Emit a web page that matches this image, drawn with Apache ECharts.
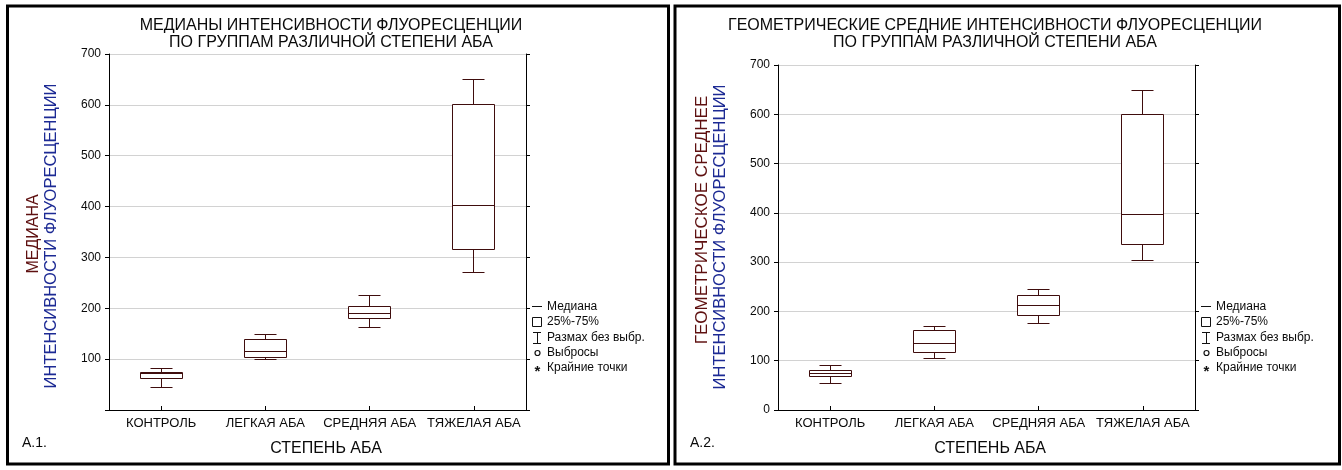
<!DOCTYPE html>
<html>
<head>
<meta charset="utf-8">
<script src="https://cdn.jsdelivr.net/npm/echarts@6/dist/echarts.min.js"></script>
<style>
html,body{margin:0;padding:0;background:#fff;}
#c{width:1342px;height:470px;}
</style>
</head>
<body>
<div id="c"></div>
<script>
// ---- data ----
const categories = ['КОНТРОЛЬ', 'ЛЕГКАЯ АБА', 'СРЕДНЯЯ АБА', 'ТЯЖЕЛАЯ АБА'];
// [min, Q1, median, Q3, max]
const medianStats = [
  [45, 61, 71, 73, 82],
  [99, 104, 116, 139, 149],
  [163, 180, 189, 204, 225],
  [270, 315, 403, 600, 650]
];
const geoStats = [
  [53, 67, 74, 80, 91],
  [105, 116, 134, 162, 170],
  [176, 192, 213, 233, 245],
  [304, 335, 397, 600, 648]
];
const yTicks = [0, 100, 200, 300, 400, 500, 600, 700];
const titleLeft = 'МЕДИАНЫ ИНТЕНСИВНОСТИ ФЛУОРЕСЦЕНЦИИ\nПО ГРУППАМ РАЗЛИЧНОЙ СТЕПЕНИ АБА';
const titleRight = 'ГЕОМЕТРИЧЕСКИЕ СРЕДНИЕ ИНТЕНСИВНОСТИ ФЛУОРЕСЦЕНЦИИ\nПО ГРУППАМ РАЗЛИЧНОЙ СТЕПЕНИ АБА';
const yNameLeft = ['МЕДИАНА', 'ИНТЕНСИВНОСТИ ФЛУОРЕСЦЕНЦИИ'];
const yNameRight = ['ГЕОМЕТРИЧЕСКОЕ СРЕДНЕЕ', 'ИНТЕНСИВНОСТИ ФЛУОРЕСЦЕНЦИИ'];
const xName = 'СТЕПЕНЬ АБА';
const legendItems = ['Медиана', '25%-75%', 'Размах без выбр.', 'Выбросы', 'Крайние точки'];
const panelLabels = ['А.1.', 'А.2.'];

// ---- styling ----
const FONT = "'Liberation Sans', Arial, sans-serif";
const BOX = '#3f0d0d';
const GRID_C = '#d2d2d2';
const TXT = '#0a0a0a';

const chart = echarts.init(document.getElementById('c'), null, {renderer: 'canvas'});

function h(v) { return Math.round(v - 0.5) + 0.5; }

function renderBox(params, api) {
  const x = api.value(0);
  const pMin = api.coord([x, api.value(1)]);
  const pQ1 = api.coord([x, api.value(2)]);
  const pMed = api.coord([x, api.value(3)]);
  const pQ3 = api.coord([x, api.value(4)]);
  const pMax = api.coord([x, api.value(5)]);
  const band = api.size([1, 0])[0];
  const bw = band * 0.405, cw = band * 0.22;
  const cx = h(pMin[0]);
  const ls = {stroke: BOX, lineWidth: 1};
  const L = (x1, y1, x2, y2) => ({type: 'line', shape: {x1: x1, y1: y1, x2: x2, y2: y2}, style: ls});
  const left = h(cx - bw / 2), right = h(cx + bw / 2);
  return {
    type: 'group',
    children: [
      L(cx, h(pMax[1]), cx, h(pQ3[1])),
      L(cx, h(pQ1[1]), cx, h(pMin[1])),
      L(h(cx - cw / 2), h(pMax[1]), h(cx + cw / 2), h(pMax[1])),
      L(h(cx - cw / 2), h(pMin[1]), h(cx + cw / 2), h(pMin[1])),
      {type: 'rect', shape: {x: left, y: h(pQ3[1]), width: right - left, height: h(pQ1[1]) - h(pQ3[1])},
        style: {fill: '#fff', stroke: BOX, lineWidth: 1}},
      L(left, h(pMed[1]), right, h(pMed[1]))
    ]
  };
}

function toData(stats) { return stats.map((s, i) => [i].concat(s)); }

const grids = [
  {left: 109, right: 816, top: 54, bottom: 60},
  {left: 778, right: 147, top: 65, bottom: 60}
];

function xAxes(gi) {
  return [
    {type: 'category', gridIndex: gi, data: categories, position: 'bottom',
      axisLine: {lineStyle: {color: '#000', width: 1}},
      axisTick: {show: true, inside: true, length: 4, alignWithLabel: true, interval: 0, lineStyle: {color: '#000'}},
      axisLabel: {fontFamily: FONT, fontSize: 13, color: TXT, margin: 7, interval: 0},
      splitLine: {show: false}},
    {type: 'category', gridIndex: gi, data: categories, position: 'top',
      axisLine: {lineStyle: {color: '#000', width: 1}},
      axisTick: {show: true, inside: false, length: 3, alignWithLabel: true, interval: 0, lineStyle: {color: '#000'}},
      axisLabel: {show: false}, splitLine: {show: false}}
  ];
}

function yAxes(gi, hideZero) {
  return [
    {type: 'value', gridIndex: gi, min: yTicks[0], max: yTicks[yTicks.length - 1], interval: 100,
      position: 'left',
      axisLine: {show: true, lineStyle: {color: '#000', width: 1}},
      axisTick: {show: true, length: 4, lineStyle: {color: '#000'}},
      axisLabel: {fontFamily: FONT, fontSize: 12, color: TXT, margin: 8,
        formatter: v => (hideZero && v === 0) ? '' : String(v)},
      splitLine: {show: true, lineStyle: {color: GRID_C, width: 1}}},
    {type: 'value', gridIndex: gi, min: yTicks[0], max: yTicks[yTicks.length - 1], interval: 100,
      position: 'right',
      axisLine: {show: true, lineStyle: {color: '#000', width: 1}},
      axisTick: {show: true, length: 4, lineStyle: {color: '#000'}},
      axisLabel: {show: false}, splitLine: {show: false}}
  ];
}

function vText(text, cx, cy, color, size) {
  return {
    type: 'text', x: cx, y: cy, rotation: Math.PI / 2,
    style: {text: text, x: 0, y: 0, align: 'center', verticalAlign: 'middle',
      font: (size || 16) + 'px ' + FONT, fill: color}
  };
}

function legendGraphics(x0) {
  const ys = [307, 322, 337.5, 352.5, 368];
  const g = [];
  const st = {stroke: '#111', lineWidth: 1, fill: 'none'};
  g.push({type: 'line', shape: {x1: x0, y1: 306.5, x2: x0 + 10, y2: 306.5}, style: st});
  g.push({type: 'rect', shape: {x: x0 + 0.5, y: 317.5, width: 9, height: 9}, style: {stroke: '#111', lineWidth: 1, fill: '#fff'}});
  g.push({type: 'line', shape: {x1: x0 + 1, y1: 332.5, x2: x0 + 9, y2: 332.5}, style: st});
  g.push({type: 'line', shape: {x1: x0 + 5.5, y1: 332.5, x2: x0 + 5.5, y2: 343.5}, style: st});
  g.push({type: 'line', shape: {x1: x0 + 1, y1: 343.5, x2: x0 + 9, y2: 343.5}, style: st});
  g.push({type: 'circle', shape: {cx: x0 + 5.5, cy: 353, r: 2.5}, style: {stroke: '#111', lineWidth: 1.2, fill: 'none'}});
  g.push({type: 'text', style: {text: '*', x: x0 + 5.5, y: 372, align: 'center', verticalAlign: 'middle',
    font: "bold 15px " + FONT, fill: '#111'}});
  legendItems.forEach((t, i) => {
    g.push({type: 'text', style: {text: t, x: x0 + 15, y: ys[i], verticalAlign: 'middle',
      font: "12px " + FONT, fill: TXT}});
  });
  return g;
}

const graphics = [
  {type: 'rect', shape: {x: 7.5, y: 6, width: 661, height: 458}, style: {fill: 'none', stroke: '#000', lineWidth: 3}, z: 100},
  {type: 'rect', shape: {x: 675, y: 6, width: 664.5, height: 458}, style: {fill: 'none', stroke: '#000', lineWidth: 3}, z: 100},
  {type: 'text', style: {text: panelLabels[0], x: 22, y: 443, verticalAlign: 'middle', font: "14px " + FONT, fill: TXT}},
  {type: 'text', style: {text: panelLabels[1], x: 690, y: 443, verticalAlign: 'middle', font: "14px " + FONT, fill: TXT}},
  {type: 'text', style: {text: xName, x: 326, y: 449, align: 'center', verticalAlign: 'middle', font: "16px " + FONT, fill: TXT}},
  {type: 'text', style: {text: xName, x: 990, y: 449, align: 'center', verticalAlign: 'middle', font: "16px " + FONT, fill: TXT}},
  vText(yNameLeft[0], 34, 234, '#5e1010'),
  vText(yNameLeft[1], 51, 236, '#1c2a94', 16.5),
  vText(yNameRight[0], 702, 220, '#5e1010', 17),
  vText(yNameRight[1], 720, 237, '#1c2a94', 16.5)
].concat(legendGraphics(532), legendGraphics(1201));

chart.setOption({
  animation: false,
  backgroundColor: '#fff',
  title: [
    {text: titleLeft, left: 326, top: 12, textAlign: 'center',
      textStyle: {fontFamily: FONT, fontSize: 16, fontWeight: 'normal', color: TXT, lineHeight: 17}},
    {text: titleRight, left: 990, top: 12, textAlign: 'center',
      textStyle: {fontFamily: FONT, fontSize: 16, fontWeight: 'normal', color: TXT, lineHeight: 17}}
  ],
  grid: grids,
  xAxis: xAxes(0).concat(xAxes(1)),
  yAxis: yAxes(0, true).concat(yAxes(1, false)),
  series: [
    {type: 'custom', name: 'left', xAxisIndex: 0, yAxisIndex: 0, renderItem: renderBox,
      encode: {x: 0, y: [1, 2, 3, 4, 5]}, data: toData(medianStats), z: 5},
    {type: 'custom', name: 'right', xAxisIndex: 2, yAxisIndex: 2, renderItem: renderBox,
      encode: {x: 0, y: [1, 2, 3, 4, 5]}, data: toData(geoStats), z: 5}
  ],
  graphic: graphics
});
</script>
</body>
</html>
